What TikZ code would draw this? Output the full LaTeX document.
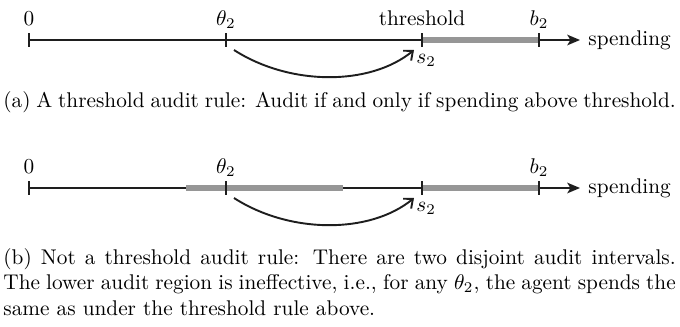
\documentclass[tikz,border=0pt]{standalone}
\usetikzlibrary{arrows.meta}
\definecolor{auditgray}{RGB}{150,150,150}
\definecolor{inkblack}{RGB}{30,30,30}
\begin{document}
\begin{tikzpicture}[x=0.47pt,y=-0.47pt,
  axisline/.style={line width=0.85pt, draw=inkblack, -{Stealth[length=6pt,width=5pt,inset=1.5pt]}},
  auditbar/.style={line width=2.4pt, draw=auditgray},
  tickmark/.style={line width=0.9pt, draw=inkblack},
  moveline/.style={line width=0.9pt, draw=inkblack, -{Straight Barb[length=3.5pt,width=6pt]}},
  lbl/.style={anchor=base, inner sep=0pt, font=\fontsize{10}{12}\selectfont},
  lblw/.style={anchor=base west, inner sep=0pt, font=\fontsize{10}{12}\selectfont},
  caption/.style={anchor=base west, inner sep=0pt, font=\fontsize{10}{12}\selectfont, align=justify, text width=316pt}
]
\useasboundingbox (0,0) rectangle (680,326);

% ---------- panel (a) ----------
\coordinate (oa) at (29,40);
\coordinate (ta) at (226,40);
\coordinate (ha) at (422,40);
\coordinate (ba) at (539,40);
\coordinate (ea) at (580,40);
\coordinate (sa) at (234,50);
\coordinate (za) at (414,50);

\draw[axisline] (oa) -- (ea);
\draw[auditbar] (ha) -- (ba);
\foreach \p in {oa,ta,ha,ba} \draw[tickmark] (\p) ++(0,-7) -- ++(0,14);
\draw[moveline] (sa) .. controls (290,86) and (370,86) .. (za);

\node[lbl] (la0) at (29,25) {$0$};
\node[lbl] (lat) at (226,25) {$\theta_2$};
\node[lbl] (lah) at (422,25) {threshold};
\node[lbl] (lab) at (539,25) {$b_2$};
\node[lblw] (las) at (588,45) {spending};
\node[lblw] (las2) at (416,63) {$s_2$};

\node[caption] (capa) at (3,107) {(a) A threshold audit rule: Audit if and only if spending above threshold.};

% ---------- panel (b) ----------
\coordinate (ob) at (29,188);
\coordinate (tb) at (226,188);
\coordinate (hb) at (422,188);
\coordinate (bb) at (539,188);
\coordinate (eb) at (580,188);
\coordinate (lowb) at (186,188);
\coordinate (lowe) at (343,188);
\coordinate (sb) at (234,198);
\coordinate (zb) at (414,198);

\draw[axisline] (ob) -- (eb);
\draw[auditbar] (lowb) -- (lowe);
\draw[auditbar] (hb) -- (bb);
\foreach \p in {ob,tb,hb,bb} \draw[tickmark] (\p) ++(0,-7) -- ++(0,14);
\draw[moveline] (sb) .. controls (290,234) and (370,234) .. (zb);

\node[lbl] (lb0) at (29,173) {$0$};
\node[lbl] (lbt) at (226,173) {$\theta_2$};
\node[lbl] (lbb) at (539,173) {$b_2$};
\node[lblw] (lbs) at (588,193) {spending};
\node[lblw] (lbs2) at (416,211) {$s_2$};

\node[caption] (capb) at (3,264) {(b) Not a threshold audit rule: There are two disjoint audit intervals. The lower audit region is ineffective, i.e., for any $\theta_2$, the agent spends the same as under the threshold rule above.};
\end{tikzpicture}
\end{document}
